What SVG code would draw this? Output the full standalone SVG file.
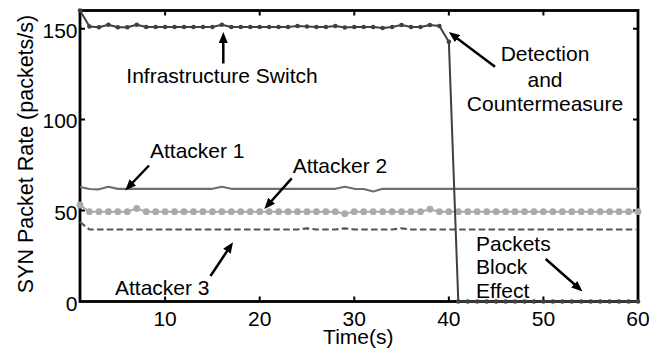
<svg xmlns="http://www.w3.org/2000/svg" width="666" height="354" viewBox="0 0 666 354">
<style>
text{font-family:"Liberation Sans",Arial,Helvetica,sans-serif;font-size:21px;fill:#000}
.tick{stroke:#000;stroke-width:2;fill:none}
.frame{stroke:#000;stroke-width:2.8;fill:none}
.sw{stroke:#404040;stroke-width:2;fill:none;stroke-linejoin:round}
.a1{stroke:#6e6e6e;stroke-width:2.2;fill:none;stroke-linejoin:round}
.a2{stroke:#aaaaaa;stroke-width:2;fill:none}
.a3{stroke:#555;stroke-width:2.2;fill:none;stroke-dasharray:6.5 3.3}
.arr{stroke:#000;stroke-width:2.5;fill:none}
</style>
<defs>
<marker id="dotSw" markerUnits="userSpaceOnUse" markerWidth="6" markerHeight="6" refX="3" refY="3"><circle cx="3" cy="3" r="2.3" fill="#404040"/></marker>
<marker id="dotA2" markerUnits="userSpaceOnUse" markerWidth="8" markerHeight="8" refX="4" refY="4"><circle cx="4" cy="4" r="3.4" fill="#aaaaaa"/></marker>
<marker id="head" markerUnits="userSpaceOnUse" markerWidth="11" markerHeight="9" refX="7" refY="4.5" orient="auto"><path d="M0,0 L11,4.5 L0,9 z" fill="#000"/></marker>
</defs>
<g id="axes">
<rect class="frame" x="80" y="10.5" width="558" height="291"/>
<path class="tick" d="M165.12,301.5v-5M259.69,301.5v-5M354.27,301.5v-5M448.85,301.5v-5M543.42,301.5v-5M165.12,10.5v5M259.69,10.5v5M354.27,10.5v5M448.85,10.5v5M543.42,10.5v5M80,210.6h5M80,119.6h5M80,28.7h5M638,210.6h-5M638,119.6h-5M638,28.7h-5"/>
<g id="xticklabels" text-anchor="middle">
<text x="165.12" y="325.5">10</text>
<text x="259.69" y="325.5">20</text>
<text x="354.27" y="325.5">30</text>
<text x="448.85" y="325.5">40</text>
<text x="543.42" y="325.5">50</text>
<text x="638" y="325.5">60</text>
</g>
<g id="yticklabels" text-anchor="end">
<text x="77.5" y="310.5">0</text>
<text x="77.5" y="219.5">50</text>
<text x="77.5" y="128.3">100</text>
<text x="77.5" y="37.5">150</text>
</g>
<text x="358.3" y="344" text-anchor="middle">Time(s)</text>
<text transform="translate(33.3,154) rotate(-90)" text-anchor="middle" style="font-size:21.5px">SYN Packet Rate (packets/s)</text>
</g>
<g id="attacker3-series">
<polyline class="a3" points="80,222 89.46,229.5 98.92,229.5 108.37,229.5 117.83,229.5 127.29,229.5 136.75,229.5 146.2,229.5 155.66,229.5 165.12,229.5 174.58,229.5 184.03,229.5 193.49,229.5 202.95,229.5 212.41,229.5 221.86,229.5 231.32,229.5 240.78,229.5 250.24,229.5 259.69,229.5 269.15,229.5 278.61,229.5 288.07,229.5 297.52,229.5 306.98,228.3 316.44,229.5 325.9,229.5 335.35,229.5 344.81,228.3 354.27,229.5 363.73,229.5 373.18,229.5 382.64,229.5 392.1,229.5 401.56,228.3 411.02,229.5 420.47,229.5 429.93,229.5 439.39,229.5 448.85,229.5 458.3,229.5 467.76,229.5 477.22,229.5 486.68,229.5 496.13,229.5 505.59,229.5 515.05,229.5 524.51,229.5 533.96,229.5 543.42,229.5 552.88,229.5 562.34,229.5 571.79,229.5 581.25,229.5 590.71,229.5 600.17,229.5 609.62,229.5 619.08,229.5 628.54,229.5 636,229.5"/>
</g>
<g id="attacker1-series">
<polyline class="a1" points="80,187 89.46,189 98.92,189.3 108.37,186.7 117.83,188.9 127.29,188.8 136.75,188.8 146.2,188.8 155.66,188.8 165.12,188.8 174.58,188.8 184.03,188.8 193.49,188.8 202.95,188.8 212.41,188.8 221.86,186.7 231.32,188.8 240.78,188.8 250.24,188.8 259.69,188.8 269.15,188.8 278.61,188.8 288.07,188.8 297.52,188.8 306.98,188.8 316.44,188.8 325.9,188.8 335.35,188.8 344.81,186.7 354.27,188.8 363.73,189 373.18,191.5 382.64,188.8 392.1,188.8 401.56,188.8 411.02,188.8 420.47,188.8 429.93,188.8 439.39,188.8 448.85,188.8 458.3,188.8 638,188.8"/>
</g>
<g id="attacker2-series">
<polyline class="a2" marker-start="url(#dotA2)" marker-mid="url(#dotA2)" marker-end="url(#dotA2)" points="80,205 89.46,211.7 98.92,211.7 108.37,211.7 117.83,211.7 127.29,211.7 136.75,208.5 146.2,211.7 155.66,211.7 165.12,211.7 174.58,211.7 184.03,211.7 193.49,211.7 202.95,211.7 212.41,211.7 221.86,211.7 231.32,211.7 240.78,211.7 250.24,211.7 259.69,211.7 269.15,211.7 278.61,211.7 288.07,211.7 297.52,211.7 306.98,211.7 316.44,211.7 325.9,211.7 335.35,211.7 344.81,213.7 354.27,211.7 363.73,211.7 373.18,211.7 382.64,211.7 392.1,211.7 401.56,211.7 411.02,211.7 420.47,211.7 429.93,209.2 439.39,211.7 448.85,211.7 458.3,211.7 467.76,211.7 477.22,211.7 486.68,211.7 496.13,211.7 505.59,211.7 515.05,211.7 524.51,211.7 533.96,211.7 543.42,211.7 552.88,211.7 562.34,211.7 571.79,211.7 581.25,211.7 590.71,211.7 600.17,211.7 609.62,211.7 619.08,211.7 628.54,211.7 638,211.7"/>
</g>
<g id="switch-series">
<polyline class="sw" marker-start="url(#dotSw)" marker-mid="url(#dotSw)" marker-end="url(#dotSw)" points="80,10.5 89.46,26.5 98.92,27.3 108.37,24.8 117.83,27.3 127.29,27.3 136.75,24.8 146.2,27 155.66,27 165.12,27 174.58,27 184.03,27 193.49,27 202.95,27 212.41,27 221.86,24.8 231.32,27 240.78,27 250.24,27 259.69,27 269.15,27 278.61,27 288.07,27 297.52,26 306.98,26.5 316.44,27 325.9,27 335.35,26 344.81,27.5 354.27,27 363.73,27 373.18,27 382.64,28 392.1,27 401.56,25 411.02,27 420.47,27 429.93,25 439.39,26 448.85,41.7 458.3,301.5 467.76,301.5 477.22,301.5 486.68,301.5 496.13,301.5 505.59,301.5 515.05,301.5 524.51,301.5 533.96,301.5 543.42,301.5 552.88,301.5 562.34,301.5 571.79,301.5 581.25,301.5 590.71,301.5 600.17,301.5 609.62,301.5 619.08,301.5 628.54,301.5 638,301.5"/>
</g>
<g id="connectors">
<line class="arr" x1="223.3" y1="63.5" x2="223.3" y2="36" marker-end="url(#head)"/>
<line class="arr" x1="495" y1="66.7" x2="452" y2="34.5" marker-end="url(#head)"/>
<line class="arr" x1="149" y1="165.5" x2="128" y2="187.5" marker-end="url(#head)"/>
<line class="arr" x1="291.7" y1="178.3" x2="267" y2="206" marker-end="url(#head)"/>
<line class="arr" x1="210.5" y1="276" x2="230.8" y2="245.5" marker-end="url(#head)"/>
<line class="arr" x1="545.7" y1="259" x2="579.5" y2="288.8" marker-end="url(#head)"/>
</g>
<g id="label-switch"><text x="222" y="83" text-anchor="middle">Infrastructure Switch</text></g>
<g id="label-detection" text-anchor="middle">
<text x="545" y="61">Detection</text>
<text x="545" y="86.5">and</text>
<text x="545" y="111">Countermeasure</text>
</g>
<g id="label-attacker1"><text x="150" y="158">Attacker 1</text></g>
<g id="label-attacker2"><text x="292.7" y="172.7">Attacker 2</text></g>
<g id="label-attacker3"><text x="115" y="295">Attacker 3</text></g>
<g id="label-block">
<text x="476" y="250.5">Packets</text>
<text x="476" y="274">Block</text>
<text x="476" y="297.5">Effect</text>
</g>
</svg>
